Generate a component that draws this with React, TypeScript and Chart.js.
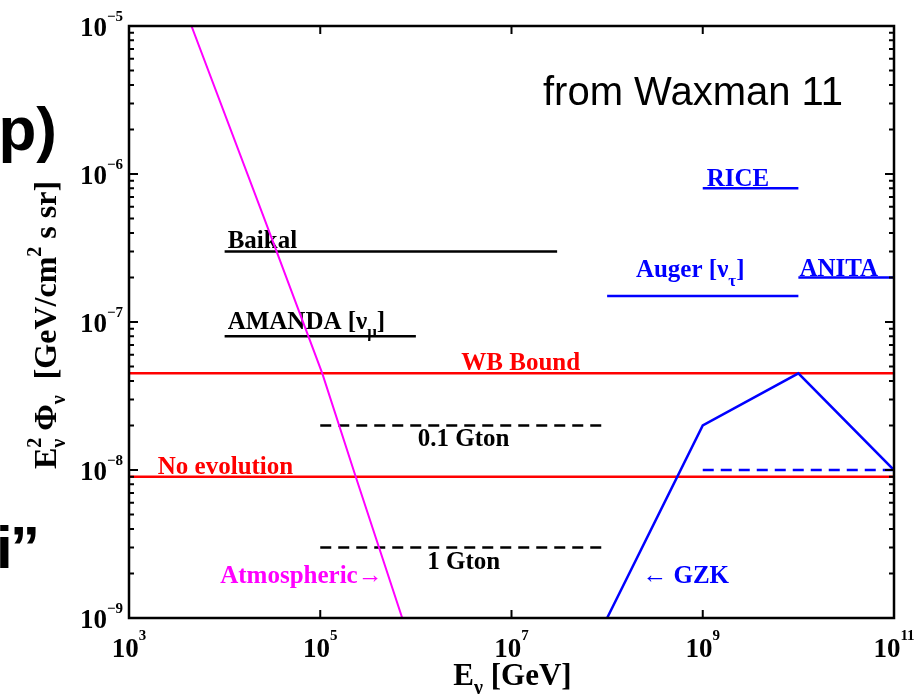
import { useEffect, useRef } from "react";
import { Chart, registerables } from "chart.js";

Chart.register(...registerables);

const SERIF = '"Liberation Serif", "Times New Roman", serif';
const SANS = '"Liberation Sans", Arial, sans-serif';

// Axis ranges (log10 decades)
const X_MIN = 1e3;
const X_MAX = 1e11;
const Y_MIN = 1e-9;
const Y_MAX = 1e-5;
const xTickExps = [3, 5, 7, 9, 11];
const yTickExps = [-9, -8, -7, -6, -5];

// Atmospheric neutrino background
const atmEnergy = [4.5e3, 2.6e4, 1.05e5, 2.35e5, 7.2e5];
const atmFlux = [1e-5, 5e-7, 4.5e-8, 9e-9, 1e-9];

// Cosmogenic (GZK) neutrino flux
const gzkEnergy = [1e8, 1e9, 1e10, 1e11];
const gzkFlux = [1e-9, 2e-8, 4.5e-8, 1e-8];
const gzkLowEnergy = [1e9, 1e11];
const gzkLowFlux = [1e-8, 1e-8];

// Waxman-Bahcall bound and the no-evolution case
const wbBound = 4.5e-8;
const noEvolution = 9e-9;

// Experimental limits: [E min, E max, flux]
const baikal = [1e4, 3e7, 3e-7];
const amanda = [1e4, 1e6, 8e-8];
const rice = [1e9, 1e10, 8e-7];
const auger = [1e8, 1e10, 1.5e-7];
const anita = [1e10, 1e11, 2e-7];

// Detector sensitivities: [E min, E max, flux]
const gton01 = [1e5, 1e8, 2e-8];
const gton1 = [1e5, 1e8, 3e-9];

type Part = { t: string; size: number; dy?: number; noAdvance?: boolean };

function drawParts(
  ctx: CanvasRenderingContext2D,
  parts: Part[],
  x: number,
  y: number,
  align: "left" | "center" | "right",
  color: string,
  family: string = SERIF
) {
  ctx.textAlign = "left";
  ctx.textBaseline = "alphabetic";
  ctx.fillStyle = color;
  const widths = parts.map((p) => {
    ctx.font = `bold ${p.size}px ${family}`;
    return p.noAdvance ? 0 : ctx.measureText(p.t).width;
  });
  const total = widths.reduce((a, b) => a + b, 0);
  let cx = align === "left" ? x : align === "center" ? x - total / 2 : x - total;
  parts.forEach((p, i) => {
    ctx.font = `bold ${p.size}px ${family}`;
    ctx.fillText(p.t, cx, y + (p.dy || 0));
    cx += widths[i];
  });
}

const LBL = 25;
const SUB = 17;

type Label = {
  x: number;
  y: number;
  dx: number;
  dy: number;
  align: "left" | "center" | "right";
  color: string;
  parts: Part[];
};

const labels: Label[] = [
  { x: baikal[0], y: baikal[2], dx: 3, dy: -3, align: "left", color: "#000", parts: [{ t: "Baikal", size: LBL }] },
  {
    x: amanda[0], y: amanda[2], dx: 3, dy: -7, align: "left", color: "#000",
    parts: [{ t: "AMANDA [ν", size: LBL }, { t: "μ", size: SUB, dy: 8 }, { t: "]", size: LBL }],
  },
  { x: 1.25e7, y: wbBound, dx: 0, dy: -3, align: "center", color: "#ff0000", parts: [{ t: "WB Bound", size: LBL }] },
  { x: 2e3, y: noEvolution, dx: 0, dy: -3, align: "left", color: "#ff0000", parts: [{ t: "No evolution", size: LBL }] },
  { x: 3.16e6, y: gton01[2], dx: 0, dy: 21, align: "center", color: "#000", parts: [{ t: "0.1 Gton", size: LBL }] },
  { x: 3.16e6, y: gton1[2], dx: 0, dy: 22, align: "center", color: "#000", parts: [{ t: "1 Gton", size: LBL }] },
  { x: 4.5e5, y: 1.72e-9, dx: 0, dy: 0, align: "right", color: "#ff00ff", parts: [{ t: "Atmospheric→", size: LBL }] },
  { x: 2.33e8, y: 1.72e-9, dx: 0, dy: 0, align: "left", color: "#0000ff", parts: [{ t: "← GZK", size: LBL }] },
  { x: rice[0], y: rice[2], dx: 4, dy: -2, align: "left", color: "#0000ff", parts: [{ t: "RICE", size: LBL }] },
  {
    x: 2e8, y: auger[2], dx: 0, dy: -19, align: "left", color: "#0000ff",
    parts: [{ t: "Auger [ν", size: LBL }, { t: "τ", size: SUB, dy: 9 }, { t: "]", size: LBL }],
  },
  { x: anita[0], y: anita[2], dx: 1, dy: -1, align: "left", color: "#0000ff", parts: [{ t: "ANITA", size: LBL }] },
];

function seg(range: number[]) {
  return [
    { x: range[0], y: range[2] },
    { x: range[1], y: range[2] },
  ];
}

function pts(xs: number[], ys: number[]) {
  return xs.map((x, i) => ({ x, y: ys[i] }));
}

const decor = {
  id: "decor",
  beforeDraw(chart: any) {
    const ctx = chart.ctx as CanvasRenderingContext2D;
    ctx.save();
    ctx.fillStyle = "#fff";
    ctx.fillRect(0, 0, chart.width, chart.height);
    ctx.restore();
  },
  beforeDatasetsDraw(chart: any) {
    const ctx = chart.ctx as CanvasRenderingContext2D;
    const xs = chart.scales.x;
    const ys = chart.scales.y;
    ctx.save();
    labels.forEach((l) => {
      const px = xs.getPixelForValue(l.x) + l.dx;
      const py = ys.getPixelForValue(l.y) + l.dy;
      drawParts(ctx, l.parts, px, py, l.align, l.color);
    });
    ctx.restore();
  },
  afterDatasetsDraw(chart: any) {
    const ctx = chart.ctx as CanvasRenderingContext2D;
    const { left, right, top, bottom } = chart.chartArea;
    const xs = chart.scales.x;
    const ys = chart.scales.y;
    ctx.save();
    ctx.strokeStyle = "#000";
    ctx.lineWidth = 2;
    // inward ticks
    ctx.beginPath();
    xTickExps.forEach((e) => {
      const px = xs.getPixelForValue(Math.pow(10, e));
      ctx.moveTo(px, bottom);
      ctx.lineTo(px, bottom - 8);
      ctx.moveTo(px, top);
      ctx.lineTo(px, top + 8);
    });
    for (let e = -9; e < -5; e++) {
      for (let m = 1; m <= 9; m++) {
        const v = m * Math.pow(10, e);
        const py = ys.getPixelForValue(v);
        const len = m === 1 ? 9 : 5;
        ctx.moveTo(left, py);
        ctx.lineTo(left + len, py);
        ctx.moveTo(right, py);
        ctx.lineTo(right - len, py);
      }
    }
    ctx.stroke();
    // frame
    ctx.lineWidth = 2.5;
    ctx.strokeRect(left, top, right - left, bottom - top);

    // y tick labels
    yTickExps.forEach((e) => {
      const py = ys.getPixelForValue(Math.pow(10, e));
      const exp = "−" + String(-e);
      ctx.font = `bold 15px ${SERIF}`;
      const we = ctx.measureText(exp).width;
      ctx.font = `bold 27px ${SERIF}`;
      const wb = ctx.measureText("10").width;
      const xEnd = left - 6;
      drawParts(
        ctx,
        [
          { t: "10", size: 27, dy: 9.5 },
          { t: exp, size: 15, dy: -5 },
        ],
        xEnd - we - wb,
        py,
        "left",
        "#000"
      );
    });
    // x tick labels
    xTickExps.forEach((e) => {
      const px = xs.getPixelForValue(Math.pow(10, e));
      drawParts(
        ctx,
        [
          { t: "10", size: 27 },
          { t: String(e), size: 15, dy: -17 },
        ],
        px,
        bottom + 39,
        "center",
        "#000"
      );
    });

    // axis titles
    drawParts(
      ctx,
      [
        { t: "E", size: 31 },
        { t: "ν", size: 20, dy: 9 },
        { t: " [GeV]", size: 31 },
      ],
      (left + right) / 2 + 1,
      bottom + 67,
      "center",
      "#000"
    );
    ctx.save();
    ctx.translate(56, (top + bottom) / 2 + 3);
    ctx.rotate(-Math.PI / 2);
    drawParts(
      ctx,
      [
        { t: "E", size: 32 },
        { t: "2", size: 20, dy: -15, noAdvance: true },
        { t: "ν", size: 20, dy: 9 },
        { t: " Φ", size: 32 },
        { t: "ν", size: 20, dy: 9 },
        { t: "  [GeV/cm", size: 32 },
        { t: "2", size: 20, dy: -15 },
        { t: " s sr]", size: 32 },
      ],
      0,
      0,
      "center",
      "#000"
    );
    ctx.restore();

    // annotation
    ctx.font = `40px ${SANS}`;
    ctx.fillStyle = "#000";
    ctx.textAlign = "left";
    ctx.fillText("from Waxman 11", 543, 105);

    // fragments of the surrounding slide text
    ctx.font = `bold 62px ${SANS}`;
    ctx.textAlign = "right";
    ctx.fillText("γp)", 57, 150);
    ctx.font = `bold 60px ${SANS}`;
    ctx.textAlign = "left";
    ctx.fillText("i", -4, 568);
    ctx.fillText("”", 10, 568);
    ctx.restore();
  },
};

export default function App() {
  const ref = useRef<HTMLCanvasElement | null>(null);

  useEffect(() => {
    if (!ref.current) return;
    const line = (data: any[], color: string, width: number, dash: number[] = []) => ({
      data,
      showLine: true,
      borderColor: color,
      backgroundColor: color,
      borderWidth: width,
      borderDash: dash,
      pointRadius: 0,
      fill: false,
      tension: 0,
    });
    const chart = new Chart(ref.current, {
      type: "scatter",
      data: {
        datasets: [
          line(pts(atmEnergy, atmFlux), "#ff00ff", 2),
          line(pts(gzkEnergy, gzkFlux), "#0000ff", 2.5),
          line(pts(gzkLowEnergy, gzkLowFlux), "#0000ff", 2.5, [11, 7]),
          line(seg(gton01), "#000", 2.5, [11, 7]),
          line(seg(gton1), "#000", 2.5, [11, 7]),
          line(seg(baikal), "#000", 2.5),
          line(seg(amanda), "#000", 2.5),
          line(seg(rice), "#0000ff", 2.5),
          line(seg(auger), "#0000ff", 2.5),
          line(seg(anita), "#0000ff", 2.5),
          line(seg([X_MIN, X_MAX, wbBound]), "#ff0000", 2.5),
          line(seg([X_MIN, X_MAX, noEvolution]), "#ff0000", 2.5),
        ] as any,
      },
      options: {
        animation: false,
        responsive: false,
        maintainAspectRatio: false,
        events: [],
        layout: { padding: { left: 129, right: 24, top: 26, bottom: 78 } },
        plugins: { legend: { display: false }, tooltip: { enabled: false } },
        scales: {
          x: { type: "logarithmic", min: X_MIN, max: X_MAX, display: false },
          y: { type: "logarithmic", min: Y_MIN, max: Y_MAX, display: false },
        },
      },
      plugins: [decor],
    });
    return () => chart.destroy();
  }, []);

  return (
    <div style={{ position: "fixed", left: 0, top: 0, width: 918, height: 696, background: "#fff" }}>
      <canvas ref={ref} width={918} height={696} style={{ display: "block", width: 918, height: 696 }} />
    </div>
  );
}
